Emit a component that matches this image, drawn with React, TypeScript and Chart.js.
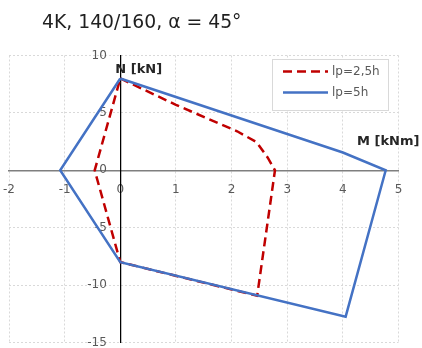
import React, { useEffect, useRef } from 'react';
import { Chart, registerables } from 'chart.js';

Chart.register(...registerables);

// ---- data ----
const TITLE = '4K, 140/160, α = 45°';
const X_AXIS_TITLE = 'M [kNm]';
const Y_AXIS_TITLE = 'N [kN]';
const SERIES_LABELS = ['lp=2,5h', 'lp=5h'];

const RED_M = [0, 1.0, 2.1, 2.45, 2.65, 2.78, 2.46, 0, -0.46, 0];
const RED_N = [8, 5.7, 3.4, 2.45, 1.1, 0, -10.93, -8, 0, 8];

const BLUE_M = [0, 4.0, 4.77, 4.05, 0, -1.08, 0];
const BLUE_N = [8, 1.55, 0, -12.75, -8, 0, 8];

const X_MIN = -2;
const X_MAX = 5;
const X_STEP = 1;
const Y_MIN = -15;
const Y_MAX = 10;
const Y_STEP = 5;

const FONT = '"DejaVu Sans"';

const noPadding = (scale: any) => {
  scale.paddingLeft = 0;
  scale.paddingRight = 0;
  scale.paddingTop = 0;
  scale.paddingBottom = 0;
};

const overlay = {
  id: 'overlay',
  beforeDatasetsDraw(chart: any) {
    const { ctx, scales } = chart;
    const xs = scales.x;
    const ys = scales.y;
    const x0 = xs.getPixelForValue(0);
    ctx.save();
    // y tick labels, next to the vertical axis
    ctx.font = `12px ${FONT}`;
    ctx.fillStyle = '#595959';
    ctx.textAlign = 'right';
    ctx.textBaseline = 'middle';
    ys.ticks.forEach((t: any) => {
      ctx.fillText(String(t.value), x0 - 13.5, ys.getPixelForValue(t.value));
    });
    ctx.restore();
  },
  afterDraw(chart: any) {
    const { ctx, scales } = chart;
    const xs = scales.x;
    const ys = scales.y;
    const x0 = xs.getPixelForValue(0);
    const y0 = ys.getPixelForValue(0);
    ctx.save();

    // title
    ctx.textAlign = 'left';
    ctx.fillStyle = '#1f1f1f';
    ctx.font = `18.8px ${FONT}`;
    ctx.textBaseline = 'alphabetic';
    ctx.fillText(TITLE, 42, 28);

    // axis titles
    ctx.font = `bold 13px ${FONT}`;
    ctx.textBaseline = 'middle';
    ctx.fillStyle = '#262626';
    ctx.fillText(Y_AXIS_TITLE, x0 - 5, ys.top + 14.5);
    ctx.fillText(X_AXIS_TITLE, 357, y0 - 29);

    // legend
    const lx = 272, ly = 59, lw = 116, lh = 51;
    ctx.fillStyle = '#ffffff';
    ctx.fillRect(lx, ly, lw, lh);
    ctx.strokeStyle = '#d9d9d9';
    ctx.lineWidth = 1;
    ctx.strokeRect(lx + 0.5, ly + 0.5, lw, lh);
    const ds = chart.data.datasets;
    const rows = [71.5, 92.5];
    ds.forEach((d: any, i: number) => {
      ctx.beginPath();
      ctx.strokeStyle = d.borderColor;
      ctx.lineWidth = d.borderWidth;
      ctx.setLineDash(d.borderDash || []);
      ctx.moveTo(283, rows[i]);
      ctx.lineTo(328, rows[i]);
      ctx.stroke();
      ctx.setLineDash([]);
      ctx.fillStyle = '#595959';
      ctx.font = `12px ${FONT}`;
      ctx.textBaseline = 'middle';
      ctx.fillText(d.label, 332, rows[i]);
    });
    ctx.restore();
  },
};

export default function App() {
  const ref = useRef<HTMLCanvasElement>(null);
  useEffect(() => {
    document.body.style.margin = '0';
    const canvas = ref.current!;
    const toPts = (xs: number[], ys: number[]) => xs.map((v, i) => ({ x: v, y: ys[i] }));
    const chart = new Chart(canvas, {
      type: 'scatter',
      data: {
        datasets: [
          {
            label: SERIES_LABELS[0],
            data: toPts(RED_M, RED_N),
            borderColor: '#c00000',
            backgroundColor: '#c00000',
            borderWidth: 2.5,
            borderDash: [9, 5],
            showLine: true,
            pointRadius: 0,
            fill: false,
            order: 1,
          },
          {
            label: SERIES_LABELS[1],
            data: toPts(BLUE_M, BLUE_N),
            borderColor: '#4472c4',
            backgroundColor: '#4472c4',
            borderWidth: 2.5,
            showLine: true,
            pointRadius: 0,
            fill: false,
            order: 0,
          },
        ],
      } as any,
      options: {
        animation: false,
        responsive: false,
        maintainAspectRatio: false,
        layout: { padding: { left: 9, right: 23.5, top: 55.5, bottom: 5.5 } },
        plugins: {
          legend: { display: false },
          tooltip: { enabled: false },
          title: { display: false },
        },
        scales: {
          x: {
            type: 'linear',
            min: X_MIN,
            max: X_MAX,
            position: { y: 0 } as any,
            afterFit: noPadding,
            ticks: {
              stepSize: X_STEP,
              color: '#595959',
              font: { family: 'DejaVu Sans', size: 12 },
              padding: 12,
              maxRotation: 0,
              autoSkip: false,
            },
            grid: { color: '#d9d9d9', lineWidth: 1, drawTicks: false },
            border: { display: true, color: '#7f7f7f', width: 1.5, dash: [2, 2] },
          },
          y: {
            type: 'linear',
            min: Y_MIN,
            max: Y_MAX,
            position: { x: 0 } as any,
            afterFit: noPadding,
            ticks: {
              display: false,
              stepSize: Y_STEP,
              autoSkip: false,
            },
            grid: { color: '#d9d9d9', lineWidth: 1, drawTicks: false },
            border: { display: true, color: '#000000', width: 1.25, dash: [2, 2] },
          },
        },
      },
      plugins: [overlay],
    } as any);
    return () => chart.destroy();
  }, []);
  return (
    <div style={{ width: 422, height: 348 }}>
      <canvas ref={ref} width={422} height={348} />
    </div>
  );
}
